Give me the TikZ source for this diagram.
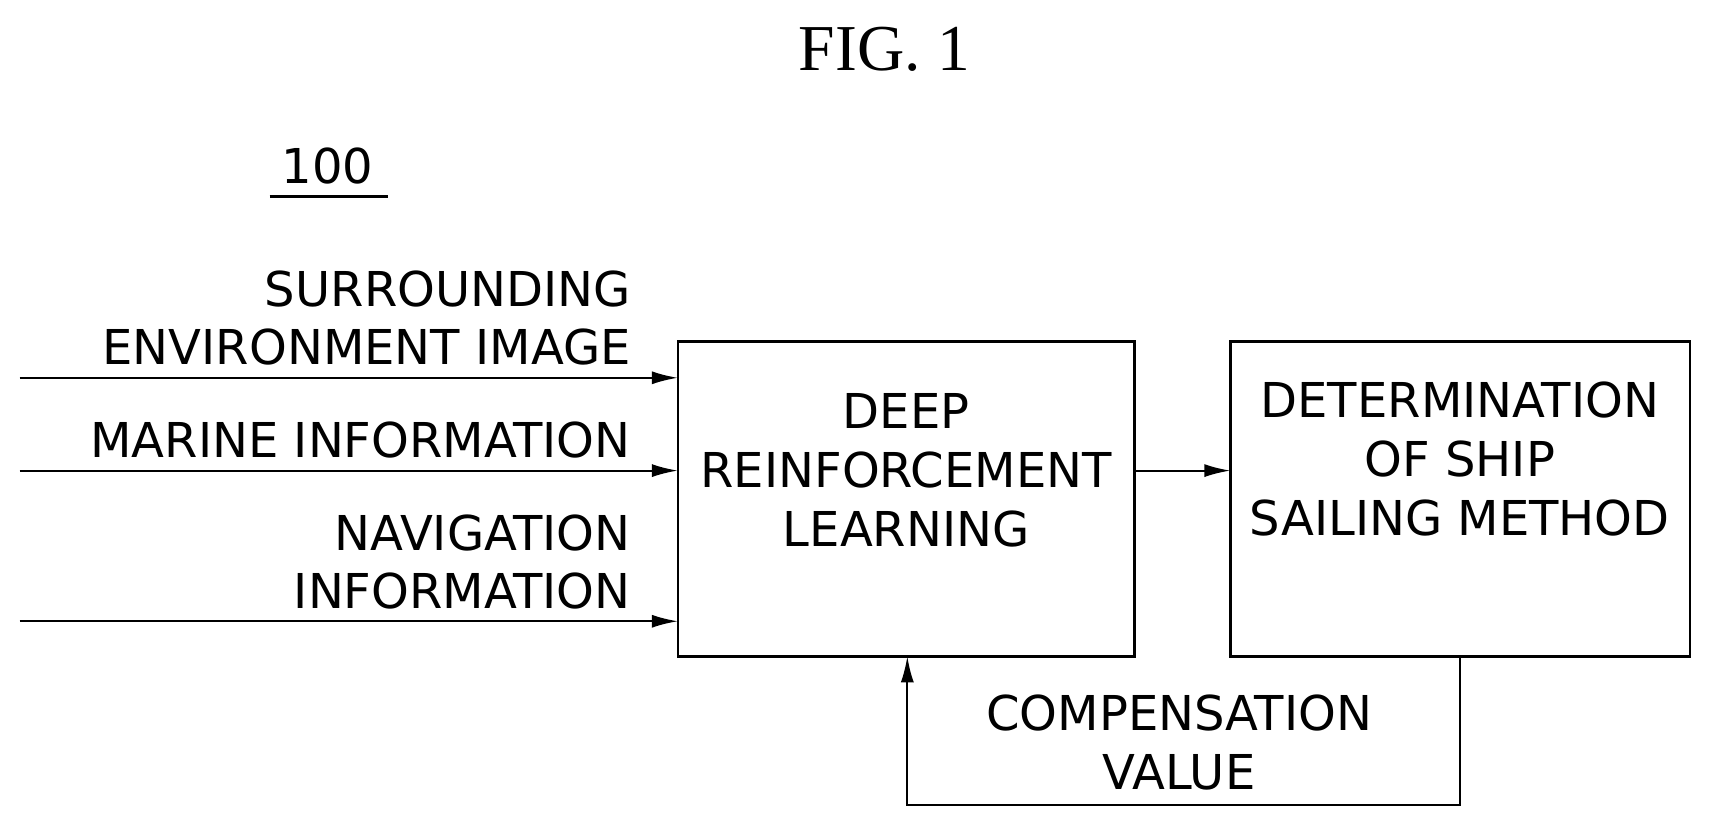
\documentclass[tikz,border=0pt]{standalone}
\usepackage{fontspec}
\setmainfont{Liberation Serif}
\newfontfamily\lab{DejaVu Sans}[Scale=1]
\usetikzlibrary{arrows.meta}
\begin{document}
\begin{tikzpicture}[x=0.5pt,y=-0.5pt,
  t/.style={font=\lab\fontsize{22}{27}\selectfont, inner sep=0pt, align=center},
  box/.style={draw, line width=1.2pt},
  arr/.style={line width=1pt,-{Latex[length=12pt,width=6pt]}}]
\useasboundingbox (0,0) rectangle (1568,757);
\node[font=\fontsize{30}{36}\selectfont] (fig) at (810,45) {FIG. 1};
\node[t] (n100) at (300,152) {100};
\draw[line width=1.2pt] (247,180) -- (355,180);
\path[box] (621,313) rectangle (1039,601);
\path[box] (1127,313) rectangle (1548,601);
\node[t] (drl) at (830,431) {DEEP\\REINFORCEMENT\\LEARNING};
\node[t] (dsm) at (1337,420) {DETERMINATION\\OF SHIP\\SAILING METHOD};
\node[t,anchor=east] (s1) at (578,265) {SURROUNDING};
\node[t,anchor=east] (s2) at (578,318) {ENVIRONMENT IMAGE};
\node[t,anchor=east] (m) at (578,403) {MARINE INFORMATION};
\node[t,anchor=east] (n1) at (578,488) {NAVIGATION};
\node[t,anchor=east] (n2) at (578,541) {INFORMATION};
\node[t] (cv) at (1080,680) {COMPENSATION\\VALUE};
\coordinate (a1) at (18,346); \coordinate (a2) at (18,431); \coordinate (a3) at (18,569);
\draw[arr] (a1) -- (621,346);
\draw[arr] (a2) -- (621,431);
\draw[arr] (a3) -- (621,569);
\draw[arr] (1039,431) -- (1127,431);
\draw[arr] (1337,601) -- (1337,737) -- (831,737) -- (831,601);
\end{tikzpicture}
\end{document}
